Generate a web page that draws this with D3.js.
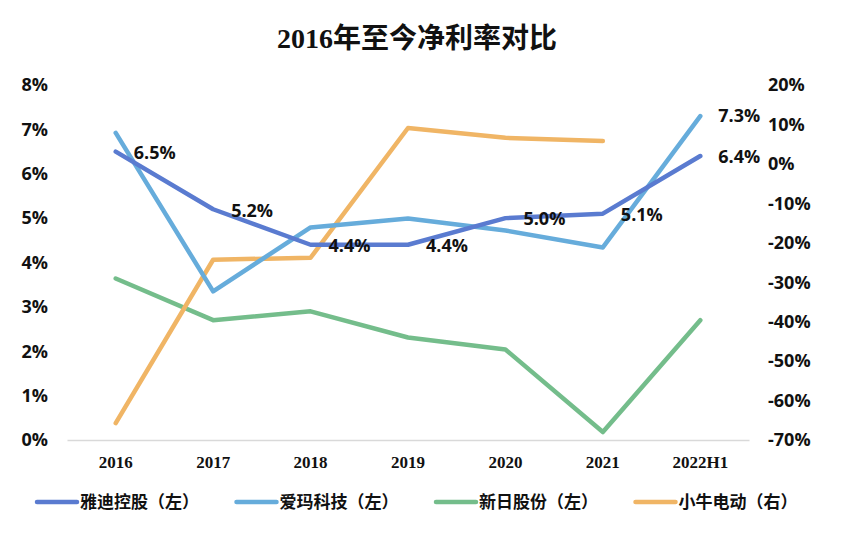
<!DOCTYPE html>
<html>
<head>
<meta charset="utf-8">
<script src="https://cdn.jsdelivr.net/npm/d3@7"></script>
<style>
    body { margin: 0; background: #fff; }
    svg text { fill: #111; }
</style>
</head>
<body>
<div id="chart"></div>
<script>
(function() {
    'use strict';

    // data
    var years = ['2016', '2017', '2018', '2019', '2020', '2021', '2022H1'];
    var yadi = [6.5, 5.2, 4.4, 4.4, 5.0, 5.1, 6.4];        // 雅迪控股 (left)
    var aima = [6.92, 3.35, 4.79, 4.99, 4.72, 4.34, 7.3];   // 爱玛科技 (left)
    var xinri = [3.64, 2.70, 2.90, 2.31, 2.04, 0.18, 2.70]; // 新日股份 (left)
    var niu = [-65.7, -24.3, -23.8, 9.1, 6.6, 5.8, null];   // 小牛电动 (right)
    var leftTicks = [0, 1, 2, 3, 4, 5, 6, 7, 8];
    var rightTicks = [20, 10, 0, -10, -20, -30, -40, -50, -60, -70];

    var width = 847, height = 540;
    var svg = d3.select('#chart').append('svg')
        .attr('width', width)
        .attr('height', height);

    var x = d3.scaleBand().domain(years).range([67, 749]);
    var yL = d3.scaleLinear().domain([0, 8]).range([440, 85]);
    var yR = d3.scaleLinear().domain([-70, 20]).range([440, 85]);
    var cx = function(d, i) { return x(years[i]) + x.bandwidth() / 2; };

    // title
    svg.append('text')
        .attr('x', 417)
        .attr('y', 48)
        .attr('text-anchor', 'middle')
        .style('font-family', '"Liberation Serif", "Noto Sans CJK SC", serif')
        .style('font-weight', 'bold')
        .style('font-size', '28px')
        .text('2016年至今净利率对比');

    // left axis labels
    svg.append('g').selectAll('text')
        .data(leftTicks)
        .enter()
        .append('text')
        .attr('x', 48)
        .attr('y', function(d) { return yL(d); })
        .attr('dy', '0.35em')
        .attr('text-anchor', 'end')
        .style('font-family', '"Open Sans", sans-serif')
        .style('font-weight', 'bold')
        .style('font-size', '18px')
        .text(function(d) { return d + '%'; });

    // right axis labels
    svg.append('g').selectAll('text')
        .data(rightTicks)
        .enter()
        .append('text')
        .attr('x', 768)
        .attr('y', function(d) { return yR(d); })
        .attr('dy', '0.35em')
        .style('font-family', '"Open Sans", sans-serif')
        .style('font-weight', 'bold')
        .style('font-size', '18px')
        .text(function(d) { return d + '%'; });

    // x axis
    var xAxis = svg.append('g')
        .attr('transform', 'translate(0,440)')
        .call(d3.axisBottom(x).tickSize(0).tickPadding(16));
    xAxis.select('.domain').attr('stroke', '#d9d9d9').attr('stroke-width', 1.5);
    xAxis.selectAll('text')
        .attr('fill', '#111')
        .style('font-family', '"Liberation Serif", serif')
        .style('font-weight', 'bold')
        .style('font-size', '17px');

    var series = [
        {name: '雅迪控股（左）', values: yadi, y: yL, color: '#5a7bd0'},
        {name: '爱玛科技（左）', values: aima, y: yL, color: '#66acdb'},
        {name: '新日股份（左）', values: xinri, y: yL, color: '#74bd8b'},
        {name: '小牛电动（右）', values: niu, y: yR, color: '#f0b565'}
    ];

    // draw order: green, orange, light blue, dark blue on top
    [2, 3, 1, 0].forEach(function(k) {
        var s = series[k];
        var line = d3.line()
            .defined(function(d) { return d !== null; })
            .x(cx)
            .y(function(d) { return s.y(d); });
        svg.append('path')
            .datum(s.values)
            .attr('fill', 'none')
            .attr('stroke', s.color)
            .attr('stroke-width', 4.5)
            .attr('stroke-linejoin', 'round')
            .attr('stroke-linecap', 'round')
            .attr('d', line);
    });

    // value labels on 雅迪控股, plus the last 爱玛科技 point
    var labelStyle = function(sel) {
        sel.style('font-family', '"Open Sans", sans-serif')
            .style('font-weight', 'bold')
            .style('font-size', '18px')
            .attr('dy', '0.35em');
    };
    svg.append('g').selectAll('text')
        .data(yadi)
        .enter()
        .append('text')
        .attr('x', function(d, i) { return cx(d, i) + (i === 6 ? 18 : 18); })
        .attr('y', function(d) { return yL(d) + 1; })
        .call(labelStyle)
        .text(function(d) { return d.toFixed(1) + '%'; });

    var last = aima.length - 1;
    svg.append('text')
        .attr('x', cx(aima[last], last) + 18)
        .attr('y', yL(aima[last]))
        .call(labelStyle)
        .text(aima[last].toFixed(1) + '%');

    // legend
    var legend = svg.append('g').selectAll('g')
        .data(series)
        .enter()
        .append('g')
        .attr('transform', function(d, i) { return 'translate(' + (37 + i * 199.5) + ',502)'; });
    legend.append('line')
        .attr('x1', 0).attr('x2', 40)
        .attr('stroke', function(d) { return d.color; })
        .attr('stroke-width', 4.5)
        .attr('stroke-linecap', 'round');
    legend.append('text')
        .attr('x', 43)
        .attr('dy', '0.35em')
        .style('font-family', '"Noto Sans CJK SC", sans-serif')
        .style('font-weight', 'bold')
        .style('font-size', '17px')
        .text(function(d) { return d.name; });
})();
</script>
</body>
</html>
